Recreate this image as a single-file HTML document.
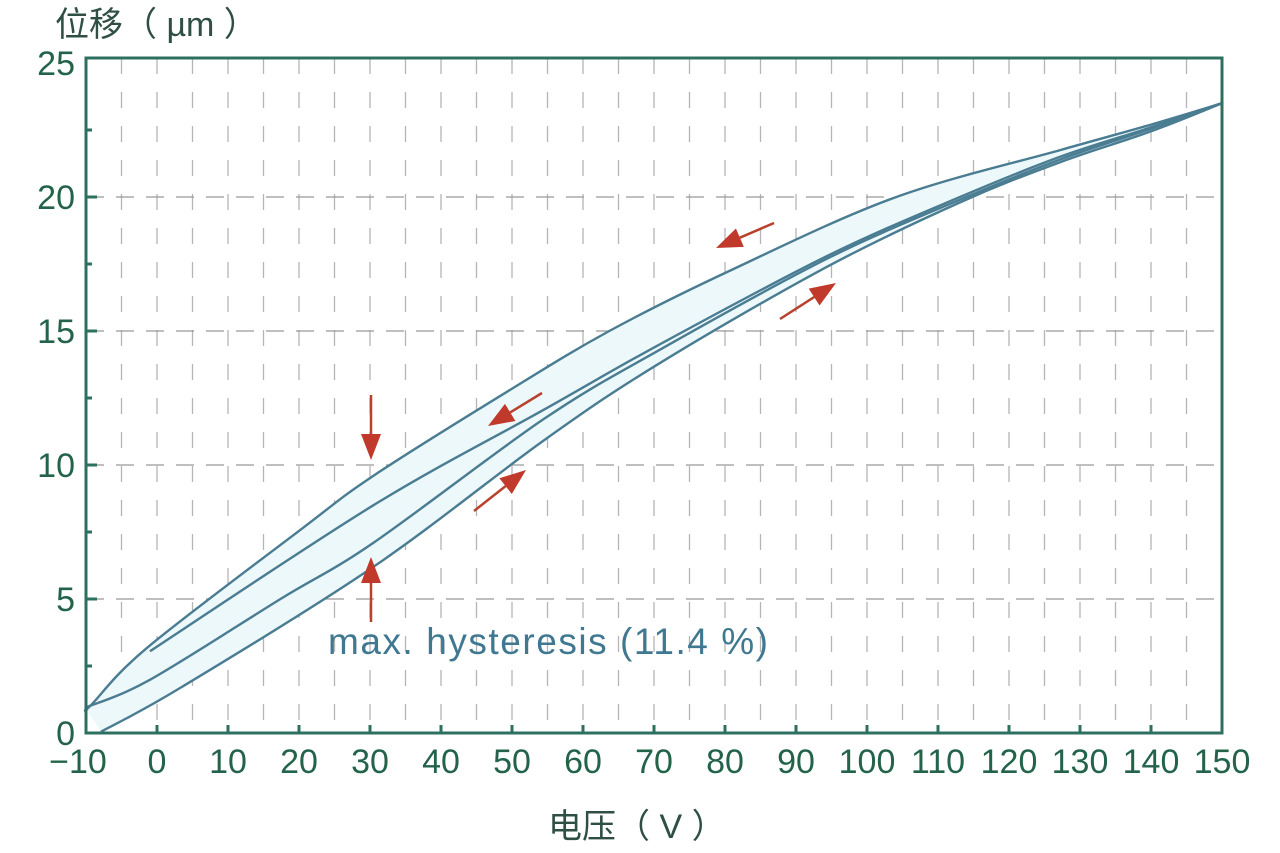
<!DOCTYPE html>
<html><head><meta charset="utf-8"><style>
html,body{margin:0;padding:0;background:#fff;}
svg{display:block;}
</style></head><body>
<svg id="chart" width="1280" height="853" viewBox="0 0 1280 853" xmlns="http://www.w3.org/2000/svg" font-family="Liberation Sans, Noto Sans CJK SC, sans-serif">
<g id="grid"></g>
<g id="fills"></g>
<g id="series"></g>
<g id="axes"></g>
<g id="arrows"></g>
<text x="55" y="36" font-size="34" fill="#2f4f45">位移（ µm ）</text>
<text x="548" y="838" font-size="34" fill="#2f4f45">电压（ V ）</text>
<text x="328" y="654" font-size="37" fill="#3f7890" textLength="440">max. hysteresis (11.4 %)</text>
</svg>
<script>
const xTicks=[-10,0,10,20,30,40,50,60,70,80,90,100,110,120,130,140,150];
const yTicks=[0,5,10,15,20,25];
const curveAV=[-10,-9.3,-1.3,20.3,30.5,49.7,63.7,80.3,103.7,127.2,140,150];
const curveAU=[0.9,1.04,3.2,7.6,9.6,12.8,15.0,17.2,19.96,21.75,22.7,23.5];
const curveBV=[-1,30.5,54.4,70.8,94.4,113.1,127.2,140,150];
const curveBU=[3.05,8.5,12.05,14.5,17.8,20.0,21.5,22.6,23.5];
const curveCV=[-10,-0.9,17.4,30.5,54.4,70.8,94.4,113.1,127.2,140,150];
const curveCU=[0.95,2.0,5.0,7.1,11.7,14.3,17.7,19.9,21.4,22.55,23.5];
const curveDV=[-7.9,3.4,30.5,54.4,70.8,94.4,113.1,127.2,140,150];
const curveDU=[0.05,1.7,6.2,10.9,13.8,17.4,19.8,21.3,22.45,23.5];
const NS="http://www.w3.org/2000/svg";
const X0=157,XS=7.1,Y0=733,YS=26.8;
function sx(v){return X0+XS*v;}
function sy(u){return Y0-YS*u;}
function mk(tag,attrs,parent){const e=document.createElementNS(NS,tag);for(const k in attrs)e.setAttribute(k,attrs[k]);parent.appendChild(e);return e;}
const grid=document.getElementById('grid'),axes=document.getElementById('axes'),series=document.getElementById('series'),fills=document.getElementById('fills'),arrows=document.getElementById('arrows');
const L=sx(-10),R=sx(150),T=58,B=sy(0);
for(let v=-5;v<150;v+=5){
  const l=mk('line',{x1:sx(v),x2:sx(v),y1:T,y2:B,stroke:'#b5b5b5','stroke-width':1.3,'stroke-dasharray':'16 18'},grid);
  
  
}
for(const u of [5,10,15,20]){
  const l=mk('line',{x1:L,x2:R,y1:sy(u),y2:sy(u),stroke:'#999','stroke-width':1.3,'stroke-dasharray':'18 12'},grid);
  
  
}
function P(vs,us){return vs.map((v,i)=>[sx(v),sy(us[i])]);}
function smooth(p,start){
  let d=(start?'M':'L')+p[0][0].toFixed(1)+','+p[0][1].toFixed(1);
  for(let i=0;i<p.length-1;i++){
    const p0=p[Math.max(0,i-1)],p1=p[i],p2=p[i+1],p3=p[Math.min(p.length-1,i+2)];
    const c1=[p1[0]+(p2[0]-p0[0])/6,p1[1]+(p2[1]-p0[1])/6];
    const c2=[p2[0]-(p3[0]-p1[0])/6,p2[1]-(p3[1]-p1[1])/6];
    d+=`C${c1[0].toFixed(1)},${c1[1].toFixed(1)} ${c2[0].toFixed(1)},${c2[1].toFixed(1)} ${p2[0].toFixed(1)},${p2[1].toFixed(1)}`;
  }
  return d;
}
const fd=smooth(P(curveAV,curveAU),true)+smooth(P(curveDV,curveDU).reverse(),false)+'Z';
const fp=mk('path',{d:fd,fill:'#edf8fb'},fills);


const curves=[[curveAV,curveAU,'curve-outer-upper'],[curveBV,curveBU,'curve-inner-upper'],[curveCV,curveCU,'curve-outer-lower'],[curveDV,curveDU,'curve-inner-lower']];
for(const c of curves){
  const p=mk('path',{d:smooth(P(c[0],c[1]),true),fill:'none',stroke:'#4a7c92','stroke-width':2.4,'stroke-linejoin':'round'},series);
  
  
}
const frame=mk('rect',{x:L,y:T,width:R-L,height:B-T,fill:'none',stroke:'#2e7060','stroke-width':3},axes);


for(const v of xTicks){
  const t=mk('line',{x1:sx(v),x2:sx(v),y1:B,y2:B-8,stroke:'#2e7060','stroke-width':3},axes);
  
  
  const tx=mk('text',{x:sx(v)+(v<0?-8:0),y:773,'text-anchor':'middle','font-size':34,fill:'#23634a'},axes);
  tx.textContent=v<0?'\u2212'+(-v):String(v);
  
  
}
for(let u=2.5;u<25;u+=2.5){
  const t=mk('line',{x1:L,x2:L+(u%5===0?11:6),y1:sy(u),y2:sy(u),stroke:'#2e7060','stroke-width':3},axes);
  
  
}
for(const u of yTicks){
  const tx=mk('text',{x:75,y:sy(u)+12,'text-anchor':'end','font-size':34,fill:'#23634a'},axes);
  tx.textContent=String(u);
  
  
}
function arrow(x1,y1,x2,y2){
  const g=mk('g',{},arrows);
  
  
  const dx=x2-x1,dy=y2-y1,len=Math.hypot(dx,dy),ux=dx/len,uy=dy/len;
  const hx=x2-ux*26,hy=y2-uy*26;
  mk('line',{x1:x1,y1:y1,x2:hx,y2:hy,stroke:'#b8412e','stroke-width':2.5},g);
  mk('polygon',{points:`${x2},${y2} ${hx-uy*10},${hy+ux*10} ${hx+uy*10},${hy-ux*10}`,fill:'#c0392b'},g);
}
arrow(371,395,371,460);
arrow(371,622,371,557);
arrow(542,393,488,426);
arrow(474,511,526,470);
arrow(774,223,716,248);
arrow(780,319,836,283);
</script>
</body></html>
